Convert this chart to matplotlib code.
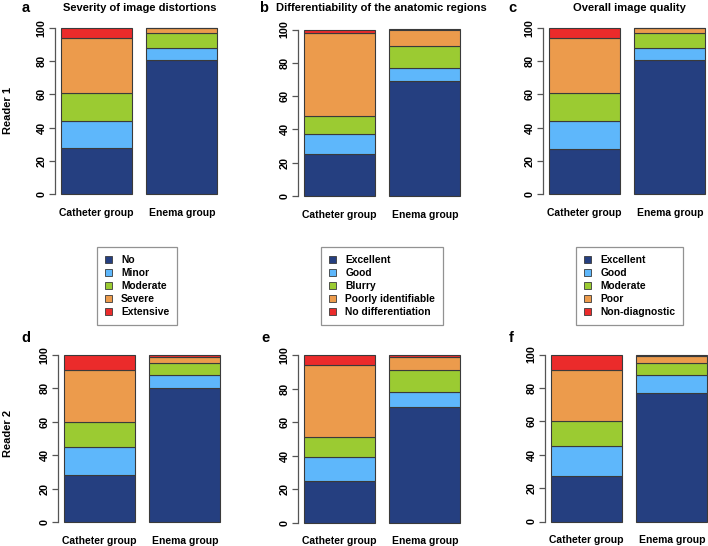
import matplotlib
matplotlib.use("Agg")
import matplotlib.pyplot as plt
from matplotlib.patches import Patch
import numpy as np

plt.rcParams['font.family'] = ['Liberation Sans', 'DejaVu Sans']
plt.rcParams['font.weight'] = 'bold'

groups = ["Catheter group", "Enema group"]

# Panel data (percent): rows = categories bottom->top, columns = groups
cats_a = ["No", "Minor", "Moderate", "Severe", "Extensive"]
cats_b = ["Excellent", "Good", "Blurry", "Poorly identifiable", "No differentiation"]
cats_c = ["Excellent", "Good", "Moderate", "Poor", "Non-diagnostic"]

a_cath = [28, 16, 17, 33, 6]
a_enema = [81, 7, 9, 3, 0]
b_cath = [25, 12, 11, 50, 2]
b_enema = [69, 8, 13, 10, 0]
c_cath = [27, 17, 17, 33, 6]
c_enema = [81, 7, 9, 3, 0]
d_cath = [28, 17, 15, 31, 9]
d_enema = [80, 8, 7, 4, 1]
e_cath = [25, 14, 12, 43, 6]
e_enema = [69, 9, 13, 8, 1]
f_cath = [27, 18, 15, 31, 9]
f_enema = [77, 11, 7, 4, 1]

colors = ["#253F80", "#5EB7FB", "#9BCB32", "#EC9B4C", "#EB2B2B"]
edge = "#3a3a3a"

W, H = 708, 546
fig = plt.figure(figsize=(W / 100, H / 100), dpi=100)

def add_axes(left_px, y0_px, y100_px):
    unit = (y0_px - y100_px) / 100.0
    bottom_px = y0_px + 4 * unit
    top_px = y100_px - 4 * unit
    width_px = 2.376 * 71
    return fig.add_axes([left_px / W, 1 - bottom_px / H, width_px / W, (bottom_px - top_px) / H])

panels = [
    ("a", "Severity of image distortions", a_cath, a_enema, 55, 194, 28),
    ("b", "Differentiability of the anatomic regions", b_cath, b_enema, 298, 196, 29.5),
    ("c", "Overall image quality", c_cath, c_enema, 543, 194, 28),
    ("d", None, d_cath, d_enema, 58, 522, 355),
    ("e", None, e_cath, e_enema, 298, 522.5, 355),
    ("f", None, f_cath, f_enema, 545, 521.5, 354.5),
]

axes = []
for letter, title, cath, enema, lx, y0, y100 in panels:
    ax = add_axes(lx, y0, y100)
    axes.append(ax)
    xs = [0.7, 1.9]
    data = np.array([cath, enema]).T
    bottoms = np.zeros(2)
    for i in range(5):
        ax.bar(xs, data[i], width=1.0, bottom=bottoms, color=colors[i],
               edgecolor=edge, linewidth=0.8)
        bottoms += data[i]
    ax.set_xlim(0.112, 2.488)
    ax.set_ylim(-4, 104)
    for s in ["top", "right", "bottom"]:
        ax.spines[s].set_visible(False)
    ax.spines["left"].set_bounds(0, 100)
    ax.spines["left"].set_color("#555555")
    ax.spines["left"].set_linewidth(0.9)
    ax.set_yticks([0, 20, 40, 60, 80, 100])
    ax.tick_params(axis="y", length=4, width=0.9, color="#555555", labelsize=7.8, pad=2)
    for lab in ax.get_yticklabels():
        lab.set_rotation(90)
        lab.set_va("center")
        lab.set_fontweight("bold")
    ax.set_xticks(xs)
    ax.set_xticklabels(groups, fontsize=7.5, fontweight="bold")
    ax.tick_params(axis="x", length=0, pad=5)
    ax.set_facecolor("none")

# titles and letters
fig.text(26 / W, 1 - 8 / H, "a", fontsize=10.5, fontweight="bold", ha="center", va="center")
fig.text(140 / W, 1 - 8 / H, "Severity of image distortions", fontsize=8, fontweight="bold", ha="center", va="center")
fig.text(264 / W, 1 - 8 / H, "b", fontsize=10.5, fontweight="bold", ha="center", va="center")
fig.text(276 / W, 1 - 8 / H, "Differentiability of the anatomic regions", fontsize=8, fontweight="bold", ha="left", va="center")
fig.text(512 / W, 1 - 8 / H, "c", fontsize=10.5, fontweight="bold", ha="center", va="center")
fig.text(629 / W, 1 - 8 / H, "Overall image quality", fontsize=8, fontweight="bold", ha="center", va="center")
fig.text(26 / W, 1 - 338 / H, "d", fontsize=10.5, fontweight="bold", ha="center", va="center")
fig.text(265 / W, 1 - 338 / H, "e", fontsize=10.5, fontweight="bold", ha="center", va="center")
fig.text(511 / W, 1 - 338 / H, "f", fontsize=10.5, fontweight="bold", ha="center", va="center")

fig.text(8 / W, 1 - 110 / H, "Reader 1", fontsize=8, fontweight="bold", rotation=90, ha="center", va="center")
fig.text(8 / W, 1 - 433 / H, "Reader 2", fontsize=8, fontweight="bold", rotation=90, ha="center", va="center")

def add_legend(cats, left_px, top_px):
    handles = [Patch(facecolor=c, edgecolor=edge, linewidth=0.6) for c in colors]
    leg = fig.legend(handles, cats, loc="upper left",
                     bbox_to_anchor=(left_px / W, 1 - top_px / H),
                     prop={"size": 7.4, "weight": "bold"},
                     frameon=True, fancybox=False, edgecolor="#777777",
                     handlelength=0.7, handleheight=0.7, handletextpad=0.9,
                     labelspacing=0.3, borderpad=0.75, borderaxespad=0)
    leg.get_frame().set_linewidth(0.9)
    return leg

add_legend(cats_a, 97, 247)
add_legend(cats_b, 321, 247)
add_legend(cats_c, 576, 247)

fig.savefig("out.png", dpi=100)
